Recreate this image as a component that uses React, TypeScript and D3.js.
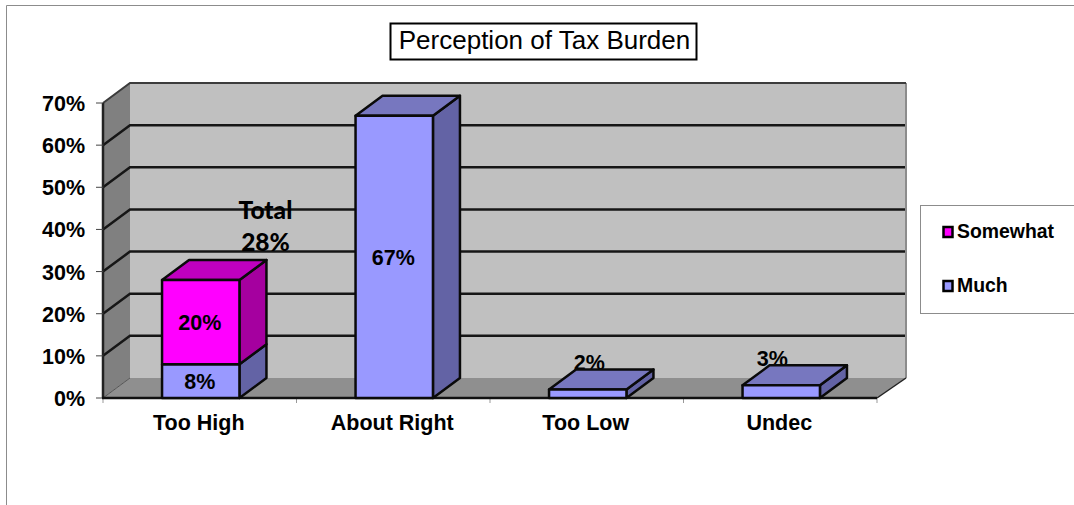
import React from "react";
import * as d3 from "d3";

const title = "Perception of Tax Burden";
const categories = ["Too High", "About Right", "Too Low", "Undec"];
const muchValues = [8, 67, 2, 3];
const somewhatValues = [20, 0, 0, 0];
const muchLabels = ["8%", "67%", "2%", "3%"];
const somewhatLabels = ["20%", "", "", ""];
const axisTicks = [0, 10, 20, 30, 40, 50, 60, 70];
const totalNote = ["Total", "28%"];

const WIDTH = 1074;
const HEIGHT = 505;
const DEPTH_X = 27;
const DEPTH_Y = -20;
const FONT = "'Liberation Sans', Arial, sans-serif";
const LABEL_SIZE = 21.5;

const x = d3.scaleBand<string>().domain(categories).range([103, 877]);
const y = d3.scaleLinear().domain([0, 70]).range([398, 103]);
const BAR_WIDTH = x.bandwidth() * 0.4;

const polyPoints = (pts: [number, number][]) => pts.map((p) => p.join(",")).join(" ");

// One 3D box: front rectangle, right side and optional top face.
function Box({ x0, v0, v1, front, side, top, showTop }: {
  x0: number; v0: number; v1: number; front: string; side: string; top: string; showTop: boolean;
}) {
  const x1 = x0 + BAR_WIDTH;
  const yLow = y(v0);
  const yHigh = y(v1);
  const stroke = { stroke: "#0a0a0a", strokeWidth: 2.5, strokeLinejoin: "round" as const };
  return (
    <g>
      <polygon
        points={polyPoints([[x1, yLow], [x1 + DEPTH_X, yLow + DEPTH_Y], [x1 + DEPTH_X, yHigh + DEPTH_Y], [x1, yHigh]])}
        fill={side}
        {...stroke}
      />
      {showTop && (
        <polygon
          points={polyPoints([[x0, yHigh], [x0 + DEPTH_X, yHigh + DEPTH_Y], [x1 + DEPTH_X, yHigh + DEPTH_Y], [x1, yHigh]])}
          fill={top}
          {...stroke}
        />
      )}
      <rect x={x0} y={yHigh} width={BAR_WIDTH} height={yLow - yHigh} fill={front} {...stroke} />
    </g>
  );
}

export default function App() {
  const axisFloor = y(0);
  const axisTop = y(70);
  const [left, right] = x.range();
  const barX = (c: string) => (x(c) as number) + (x.bandwidth() - BAR_WIDTH) / 2 + 1;
  const boundaries = [...categories.map((c) => x(c) as number), right];

  return (
    <svg
      width={WIDTH}
      height={HEIGHT}
      style={{ position: "absolute", left: 0, top: 0, background: "#fff" }}
      fontFamily={FONT}
    >
      {/* chart frame: only the top and left edges are inside the page */}
      <path d={`M6.5,505 V5.5 H1074`} fill="none" stroke="#8c8c8c" strokeWidth={1} />

      {/* title */}
      <rect x={390.5} y={23.5} width={306} height={36} fill="#fff" stroke="#000" strokeWidth={2} />
      <text x={544.5} y={49} textAnchor="middle" fontSize={26} fill="#000">{title}</text>

      {/* back wall, side wall and floor */}
      <rect x={left + DEPTH_X} y={axisTop + DEPTH_Y} width={right - left + 2} height={axisFloor - axisTop} fill="#c0c0c0" />
      <polygon
        points={polyPoints([[left, axisFloor], [left + DEPTH_X, axisFloor + DEPTH_Y], [left + DEPTH_X, axisTop + DEPTH_Y], [left, axisTop]])}
        fill="#808080"
      />
      <polygon
        points={polyPoints([[left, axisFloor], [right, axisFloor], [right + DEPTH_X + 2, axisFloor + DEPTH_Y], [left + DEPTH_X, axisFloor + DEPTH_Y]])}
        fill="#8f8f8f"
      />
      <line x1={right + DEPTH_X + 2} x2={right + DEPTH_X + 2} y1={axisTop + DEPTH_Y} y2={axisFloor + DEPTH_Y} stroke="#8c8c8c" strokeWidth={2} />

      {/* gridlines run across the side wall and the back wall */}
      {axisTicks.filter((t) => t > 0).map((t) => (
        <path
          key={t}
          d={`M${left},${y(t)} L${left + DEPTH_X},${y(t) + DEPTH_Y} H${right + DEPTH_X + (t === 70 ? 2 : 1)}`}
          fill="none"
          stroke={t === 70 ? "#3c3c3c" : "#161616"}
          strokeWidth={t === 70 ? 2 : 2.5}
        />
      ))}
      <line x1={left} x2={left + DEPTH_X} y1={axisFloor} y2={axisFloor + DEPTH_Y} stroke="#555" strokeWidth={1} />
      <line x1={right} x2={right + DEPTH_X + 2} y1={axisFloor} y2={axisFloor + DEPTH_Y} stroke="#222" strokeWidth={1.5} />

      {/* value axis */}
      <line x1={left} x2={left} y1={axisTop} y2={axisFloor} stroke="#222" strokeWidth={2.5} />
      {axisTicks.map((t) => (
        <g key={t}>
          <line x1={left - 7} x2={left} y1={y(t)} y2={y(t)} stroke="#444" strokeWidth={1} />
          <text x={85} y={y(t) + 8} textAnchor="end" fontSize={LABEL_SIZE} fontWeight={700} fill="#000">{t}%</text>
        </g>
      ))}

      {/* category axis */}
      {boundaries.map((b) => (
        <line key={b} x1={b} x2={b} y1={axisFloor} y2={axisFloor + 5} stroke="#999" strokeWidth={1} />
      ))}
      <line x1={left - 1} x2={right} y1={axisFloor} y2={axisFloor} stroke="#111" strokeWidth={2.5} />
      {categories.map((c) => (
        <text key={c} x={(x(c) as number) + x.bandwidth() / 2 - 1} y={430} textAnchor="middle" fontSize={LABEL_SIZE} fontWeight={700} fill="#000">{c}</text>
      ))}

      {/* labels of the short bars sit behind their top faces */}
      {categories.map((c, i) =>
        muchValues[i] > 5 ? null : (
          <text
            key={c}
            x={barX(c) + BAR_WIDTH / 2 + (i === 2 ? 1.5 : -9)}
            y={y(muchValues[i]) - 19.5}
            fontSize={LABEL_SIZE}
            fontWeight={700}
            textAnchor="middle"
            fill="#000"
          >
            {muchLabels[i]}
          </text>
        )
      )}

      {/* stacked bars */}
      {categories.map((c, i) => {
        const much = muchValues[i];
        const some = somewhatValues[i];
        return (
          <g key={c}>
            <Box x0={barX(c)} v0={0} v1={much} front="#9999ff" side="#6363a5" top="#7777bf" showTop={some === 0} />
            {some > 0 && (
              <Box x0={barX(c)} v0={much} v1={much + some} front="#ff00ff" side="#a5009f" top="#bf00bf" showTop />
            )}
          </g>
        );
      })}

      {/* labels inside the tall bars */}
      {categories.map((c, i) => {
        if (muchValues[i] <= 5) return null;
        const cx = barX(c) + BAR_WIDTH / 2 - 1;
        return (
          <g key={c} fontSize={LABEL_SIZE} fontWeight={700} fill="#000" textAnchor="middle">
            <text x={cx} y={i === 1 ? 265 : y(muchValues[i] / 2) + 8}>{muchLabels[i]}</text>
            {somewhatLabels[i] && (
              <text x={cx} y={y(muchValues[i] + somewhatValues[i] / 2) + 8}>{somewhatLabels[i]}</text>
            )}
          </g>
        );
      })}

      {/* total note above the first stack */}
      <g fontFamily="Lato, sans-serif" fontSize={24.5} fontWeight={900} fill="#000" textAnchor="middle">
        <text x={265.5} y={219}>{totalNote[0]}</text>
        <text x={265.5} y={251}>{totalNote[1]}</text>
      </g>

      {/* legend */}
      <rect x={920.5} y={205.5} width={160} height={108} fill="#fff" stroke="#8c8c8c" strokeWidth={1} />
      <rect x={943.5} y={227} width={9} height={10} fill="#ff00ff" stroke="#000" strokeWidth={2.5} />
      <text x={957} y={238} fontSize={19.4} fontWeight={700} fill="#000">Somewhat</text>
      <rect x={943.5} y={281} width={9} height={10} fill="#9999ff" stroke="#000" strokeWidth={2.5} />
      <text x={957} y={292} fontSize={19.4} fontWeight={700} fill="#000">Much</text>
    </svg>
  );
}
